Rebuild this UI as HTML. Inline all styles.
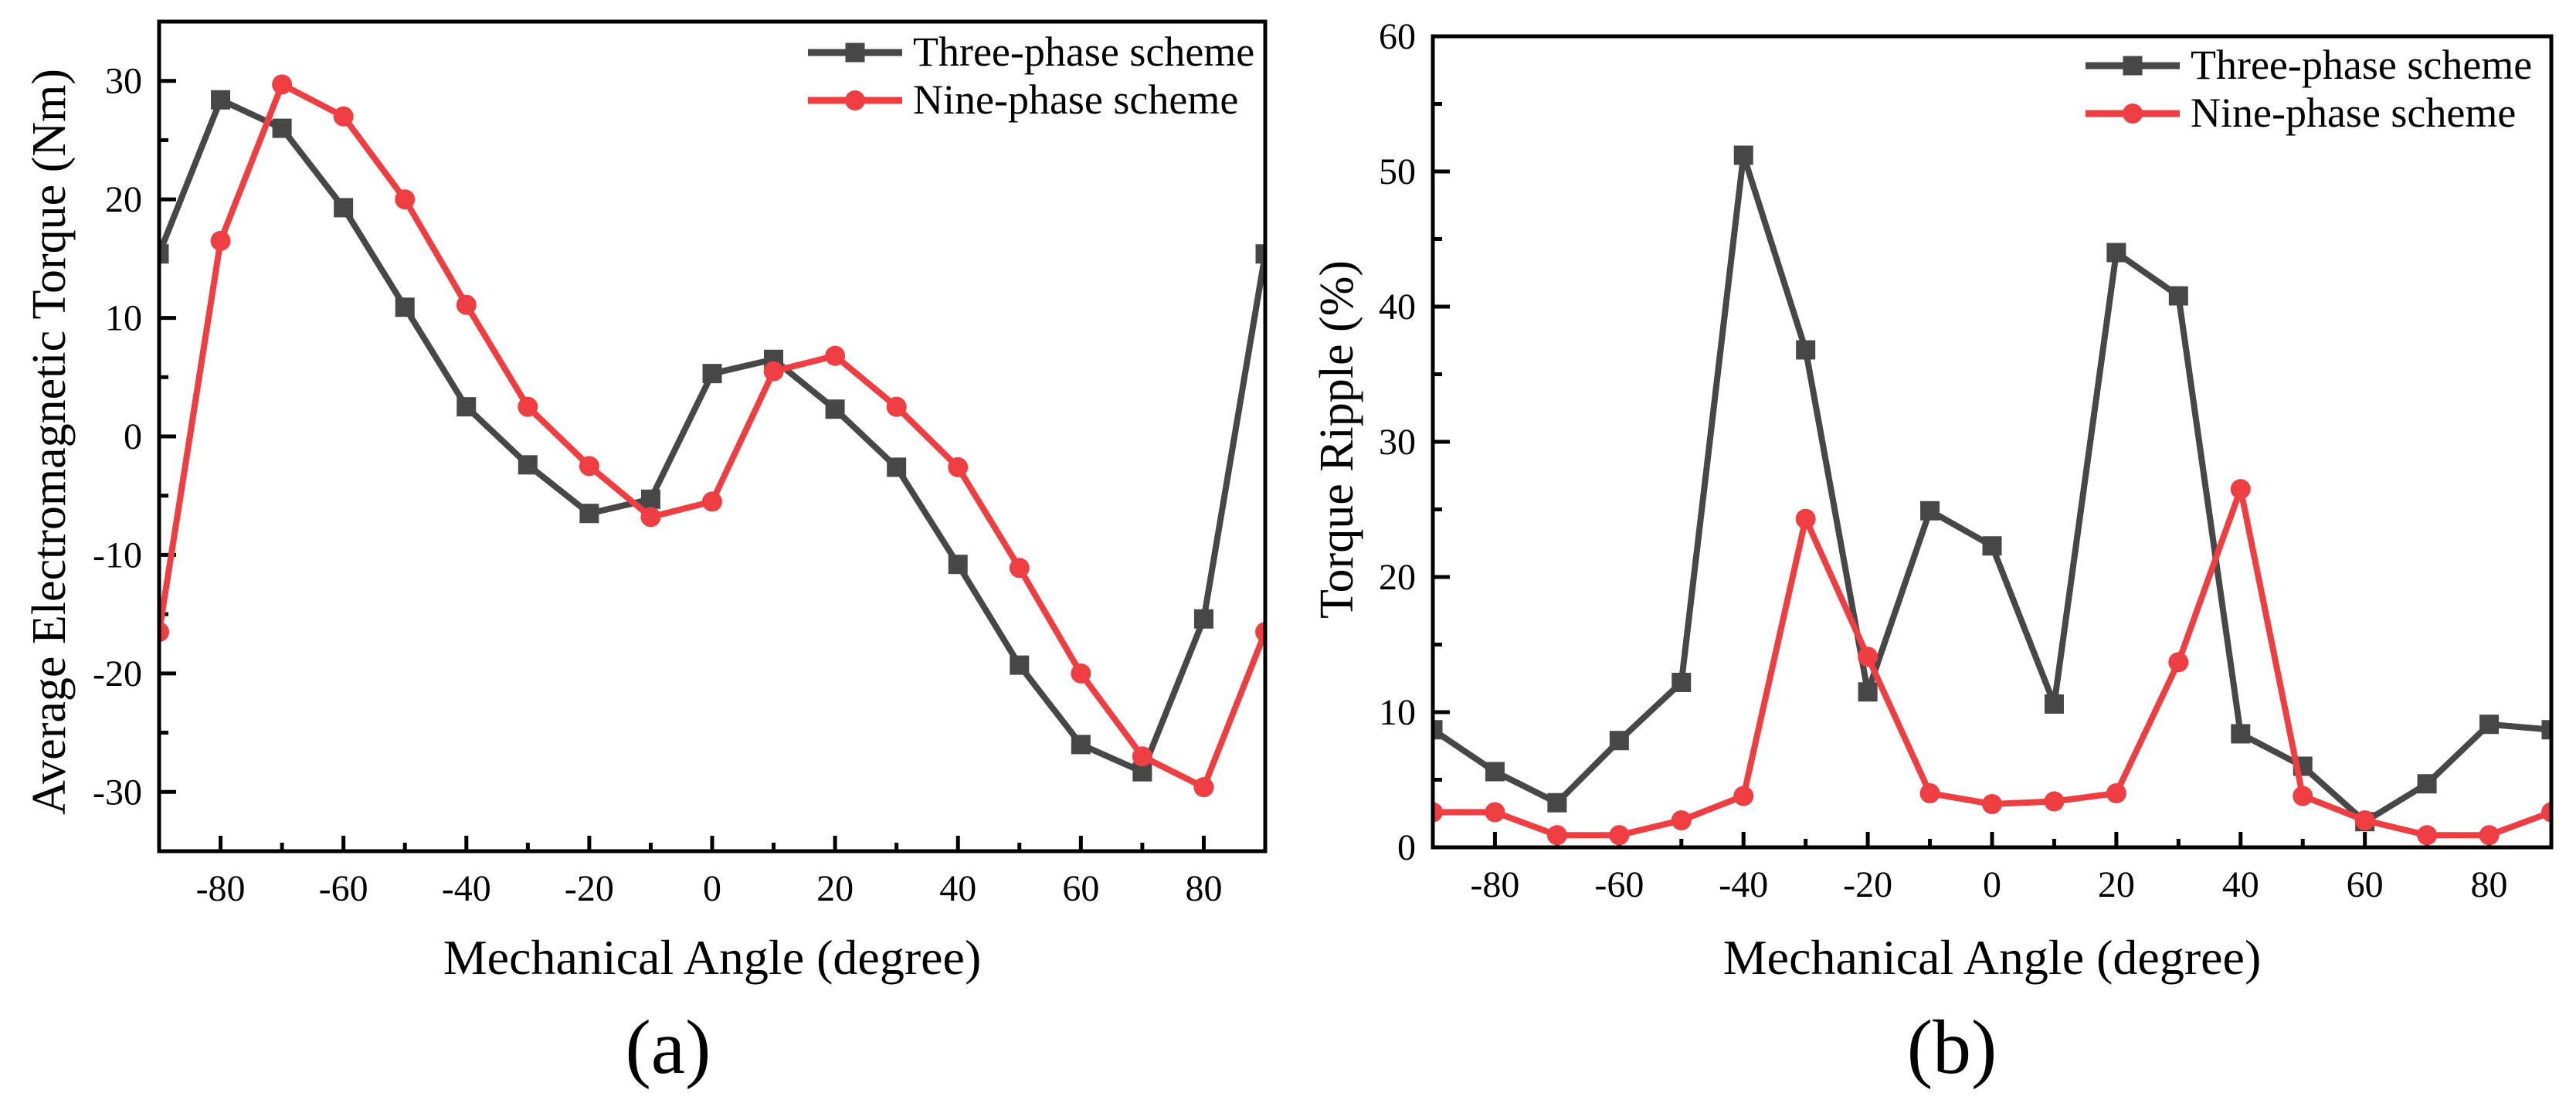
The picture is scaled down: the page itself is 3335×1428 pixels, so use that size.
<!DOCTYPE html>
<html><head><meta charset="utf-8">
<style>
html,body{margin:0;padding:0;background:#fff;}
svg{display:block;font-family:"Liberation Serif",serif;}
</style></head>
<body>
<svg id="fig" width="3335" height="1428" viewBox="0 0 3335 1428" xmlns="http://www.w3.org/2000/svg"></svg>
<script>
const angles = [-90,-80,-70,-60,-50,-40,-30,-20,-10,0,10,20,30,40,50,60,70,80,90];
const torqueThree = [15.4,28.4,26,19.3,10.9,2.5,-2.4,-6.5,-5.3,5.3,6.5,2.3,-2.6,-10.8,-19.3,-26,-28.3,-15.4,15.4];
const torqueNine = [-16.5,16.5,29.7,27,20,11.1,2.5,-2.5,-6.8,-5.5,5.5,6.8,2.5,-2.6,-11.1,-20,-27,-29.6,-16.5];
const rippleThree = [8.7,5.6,3.3,7.9,12.2,51.2,36.8,11.5,24.9,22.3,10.6,44,40.8,8.4,6,1.9,4.7,9.1,8.7];
const rippleNine = [2.6,2.6,0.9,0.9,2,3.8,24.3,14.1,4,3.2,3.4,4,13.7,26.5,3.8,2,0.9,0.9,2.6];
const xTicks = [-80,-60,-40,-20,0,20,40,60,80];
const yTicksA = [-30,-20,-10,0,10,20,30];
const yTicksB = [0,10,20,30,40,50,60];

const NS = "http://www.w3.org/2000/svg";
const svg = document.getElementById('fig');
function el(tag, attrs, parent){
  const e = document.createElementNS(NS, tag);
  for (const k in attrs) e.setAttribute(k, attrs[k]);
  (parent||svg).appendChild(e);
  return e;
}
const GRAY = "#474747", RED = "#ee3e42";

function panel(o){
  const g = el('g', {});
  
  
  const X = v => o.L + (v - (-90)) / 180 * (o.R - o.L);
  const Y = v => o.B - (v - o.ymin) / (o.ymax - o.ymin) * (o.B - o.T);
  const cid = o.name + '-clip';
  const cp = el('clipPath', {id: cid}, g);
  el('rect', {x:o.L, y:o.T, width:o.R-o.L, height:o.B-o.T}, cp);
  for (let v = -90; v <= 90; v += 10) {
    const major = xTicks.includes(v);
    const t = el('line', {x1:X(v), x2:X(v), y1:o.B, y2:o.B - (major?20:11), stroke:'#000','stroke-width':5}, g);
    
    
  }
  xTicks.forEach(v => {
    const t = el('text', {x:X(v), y:o.B+64, 'font-size':48, 'text-anchor':'middle'}, g);
    t.textContent = v;
    
    
  });
  for (let v = o.ymin; v <= o.ymax; v += 5) {
    const major = o.yTicks.includes(v);
    const t = el('line', {x1:o.L, x2:o.L + (major?22:12), y1:Y(v), y2:Y(v), stroke:'#000','stroke-width':5}, g);
    
    
  }
  o.yTicks.forEach(v => {
    const t = el('text', {x:o.L-22, y:Y(v)+16, 'font-size':48, 'text-anchor':'end'}, g);
    t.textContent = v;
    
    
  });
  const series = [
    {vals:o.s1, color:GRAY, shape:'square', name:'three-phase-series'},
    {vals:o.s2, color:RED, shape:'circle', name:'nine-phase-series'}
  ];
  series.forEach(s => {
    const sg = el('g', {'clip-path':`url(#${cid})`}, g);
    
    
    const pts = angles.map((a,i) => X(a)+','+Y(s.vals[i])).join(' ');
    const pl = el('polyline', {points:pts, fill:'none', stroke:s.color, 'stroke-width':8, 'stroke-linejoin':'round'}, sg);
    
    
    angles.forEach((a,i) => {
      let m;
      if (s.shape === 'square') m = el('rect', {x:X(a)-12.5, y:Y(s.vals[i])-12.5, width:25, height:25, fill:s.color}, sg);
      else m = el('circle', {cx:X(a), cy:Y(s.vals[i]), r:13, fill:s.color}, sg);
      
      
    });
  });
  const fr = el('rect', {x:o.L, y:o.T, width:o.R-o.L, height:o.B-o.T, fill:'none', stroke:'#000', 'stroke-width':5}, g);
  
  
  const xt = el('text', {x:(o.L+o.R)/2, y:1261, 'font-size':64, 'text-anchor':'middle'}, g);
  xt.textContent = 'Mechanical Angle (degree)';
  
  
  const yt = el('text', {x:0, y:0, 'font-size':62, 'text-anchor':'middle', transform:`translate(${o.yTitleX},${o.yTitleY}) rotate(-90)`}, g);
  yt.textContent = o.yTitle;
  
  
  const cap = el('text', {x:o.capX, y:1389, 'font-size':100, 'text-anchor':'middle'}, g);
  cap.textContent = o.cap;
  
  
  const lg = el('g', {}, g);
  
  
  [['Three-phase scheme',GRAY,'square'],['Nine-phase scheme',RED,'circle']].forEach((e,i) => {
    const y = o.legY + i*62;
    const eg = el('g', {}, lg);
    
    
    el('line', {x1:o.legX, x2:o.legX+122, y1:y, y2:y, stroke:e[1], 'stroke-width':9}, eg);
    const cx = o.legX+61;
    if (e[2]==='square') el('rect', {x:cx-12.5, y:y-12.5, width:25, height:25, fill:e[1]}, eg);
    else el('circle', {cx:cx, cy:y, r:13, fill:e[1]}, eg);
    const t = el('text', {x:o.legX+136, y:y+17, 'font-size':54}, eg);
    t.textContent = e[0];
  });
}

panel({name:'torque-chart', L:206, R:1638, T:28, B:1102, ymin:-35, ymax:35, yTicks:yTicksA,
  s1:torqueThree, s2:torqueNine, yTitle:'Average Electromagnetic Torque (Nm)', yTitleX:84, yTitleY:572,
  cap:'(a)', capX:865, legX:1046, legY:68});
panel({name:'ripple-chart', L:1855, R:3303, T:47, B:1097, ymin:0, ymax:60, yTicks:yTicksB,
  s1:rippleThree, s2:rippleNine, yTitle:'Torque Ripple (%)', yTitleX:1751, yTitleY:569,
  cap:'(b)', capX:2527, legX:2700, legY:85});
</script>
</body></html>
